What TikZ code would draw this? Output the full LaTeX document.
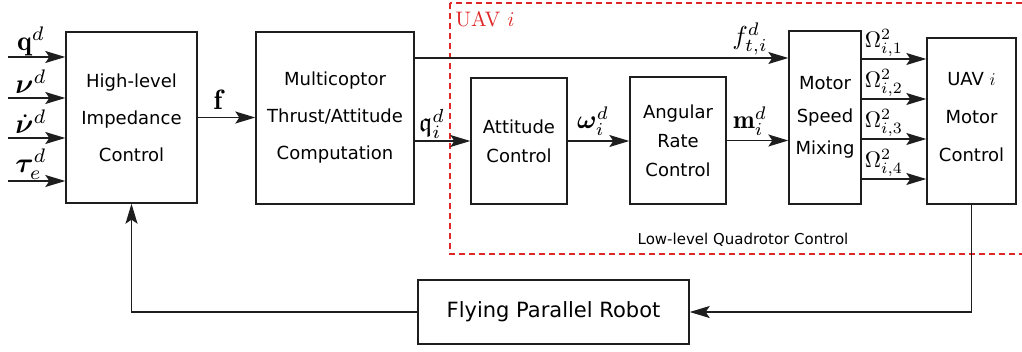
\RequirePackage{fix-cm}
\documentclass[tikz,border=0pt]{standalone}
\usepackage{amsmath,amssymb,bm}
\usepackage{fontspec}
\newfontfamily\dv{DejaVu Sans}
\usetikzlibrary{arrows.meta,calc}
\definecolor{uavred}{RGB}{222,40,40}
\definecolor{linegray}{RGB}{30,30,30}
\begin{document}
\begin{tikzpicture}[x=1pt,y=-1pt,
  blockbox/.style={draw=linegray, line width=1.4pt, inner sep=0pt, align=center, font=\dv\fontsize{18}{37}\selectfont},
  narrowbox/.style={blockbox, font=\dv\fontsize{18}{29}\selectfont},
  arr/.style={line width=1.3pt, draw=linegray, -{Stealth[length=20pt,width=12pt,inset=4pt]}},
  sclabel/.style={inner sep=0pt, font=\fontsize{10}{12}\selectfont, scale=#1, transform shape}]
\useasboundingbox (0,0) rectangle (1022,351);
\clip (0,0) rectangle (1022,351);

% UAV region
\draw[uavred, line width=1.2pt, dash pattern=on 6pt off 4pt] (450,3) rectangle (1045,254);
\node[sclabel=2.1, text=uavred] (uavlbl) at (485,19) {UAV $i$};
\node[inner sep=0pt, font=\dv\fontsize{15}{18}\selectfont] (lowlbl) at (743,240) {Low-level Quadrotor Control};

% blocks
\node[blockbox, minimum width=131pt, minimum height=171pt] (hl) at (131.5,117.5) {High-level\\Impedance\\Control};
\node[blockbox, minimum width=158pt, minimum height=172pt] (mc) at (335,118) {Multicoptor\\Thrust/Attitude\\Computation};
\node[narrowbox, minimum width=96pt, minimum height=126pt] (att) at (519,141) {Attitude\\Control};
\node[narrowbox, minimum width=96pt, minimum height=127pt] (ang) at (678,140.5) {Angular\\Rate\\Control};
\node[blockbox, font=\dv\fontsize{18}{32.5}\selectfont, minimum width=72pt, minimum height=173pt] (msm) at (825,117.5) {Motor\\Speed\\Mixing};
\node[blockbox, minimum width=89pt, minimum height=166pt] (uav) at (971.5,121) {};
\node[inner sep=0pt, align=center, font=\dv\fontsize{18}{38}\selectfont] (uavtxt) at (971.5,117) {UAV $i$\\Motor\\Control};
\node[blockbox, font=\dv\fontsize{21}{25}\selectfont, minimum width=271pt, minimum height=64pt] (fpr) at (553.5,312) {Flying Parallel Robot};

% inputs
\coordinate (in1) at (8,57);
\coordinate (in2) at (8,98);
\coordinate (in3) at (8,138);
\coordinate (in4) at (8,181);
\draw[arr] (in1) -- (in1 -| hl.west);
\draw[arr] (in2) -- (in2 -| hl.west);
\draw[arr] (in3) -- (in3 -| hl.west);
\draw[arr] (in4) -- (in4 -| hl.west);
\node[sclabel=2.8] (lq) at (31,41) {$\mathbf{q}^d$};
\node[sclabel=2.8] (lnu) at (31,82) {$\boldsymbol{\nu}^d$};
\node[sclabel=2.8] (lnud) at (31,122) {$\dot{\boldsymbol{\nu}}^d$};
\node[sclabel=2.8] (ltau) at (31,164) {$\boldsymbol{\tau}_e^d$};

% f
\draw[arr] (hl.east) -- (hl.east -| mc.west);
\node[sclabel=2.8] (lf) at (218,100) {$\mathbf{f}$};

% thrust
\coordinate (ft) at (0,58);
\draw[arr] (mc.east |- ft) -- (msm.west |- ft);
\node[sclabel=2.6] (lft) at (750,39) {$f_{t,i}^d$};

% attitude
\draw[arr] (mc.east |- att.west) -- (att.west);
\node[sclabel=2.7] (lqi) at (432,124) {$\mathfrak{q}_i^d$};
\draw[arr] (att.east) -- (att.east -| ang.west);
\node[sclabel=2.6] (lom) at (593,121) {$\boldsymbol{\omega}_i^d$};
\draw[arr] (ang.east) -- (ang.east -| msm.west);
\node[sclabel=2.6] (lm) at (750,121) {$\mathbf{m}_i^d$};

% motor speeds
\coordinate (o1) at (0,59);
\coordinate (o2) at (0,99);
\coordinate (o3) at (0,139);
\coordinate (o4) at (0,179);
\draw[arr] (msm.east |- o1) -- (uav.west |- o1);
\draw[arr] (msm.east |- o2) -- (uav.west |- o2);
\draw[arr] (msm.east |- o3) -- (uav.west |- o3);
\draw[arr] (msm.east |- o4) -- (uav.west |- o4);
\node[sclabel=2.25] (lo1) at (884,43) {$\Omega_{i,1}^2$};
\node[sclabel=2.25] (lo2) at (884,83) {$\Omega_{i,2}^2$};
\node[sclabel=2.25] (lo3) at (884,123) {$\Omega_{i,3}^2$};
\node[sclabel=2.25] (lo4) at (884,163) {$\Omega_{i,4}^2$};

% feedback
\draw[arr] (uav.south) |- (fpr.east);
\draw[arr] (fpr.west) -| (hl.south);
\end{tikzpicture}
\end{document}
